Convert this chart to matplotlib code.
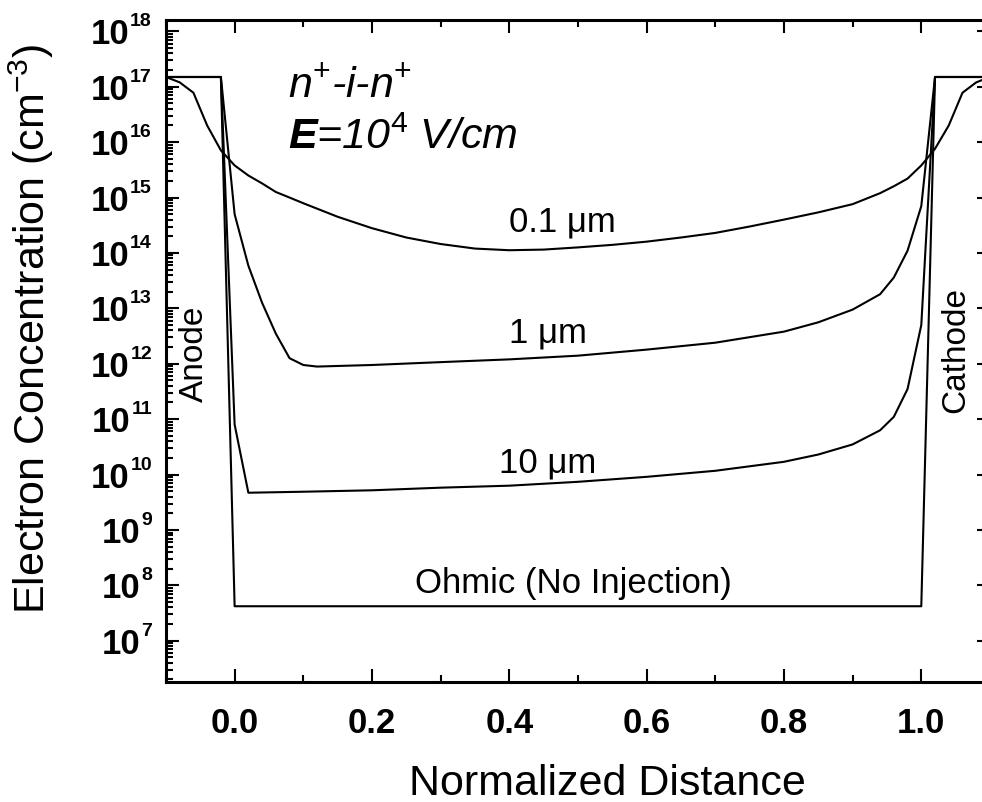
# Electron concentration across an n+-i-n+ structure, log scale

import numpy as np
import matplotlib
matplotlib.use('Agg')
import matplotlib.pyplot as plt
from matplotlib.ticker import LogLocator, MultipleLocator, NullFormatter

# Fuente
plt.rc('font', family='Liberation Sans')
plt.rcParams['mathtext.fontset'] = 'custom'
plt.rcParams['mathtext.rm'] = 'Liberation Sans'
plt.rcParams['mathtext.it'] = 'Liberation Sans:italic'
plt.rcParams['mathtext.bf'] = 'Liberation Sans:bold'
plt.rcParams['mathtext.bfit'] = 'Liberation Sans:bold:italic'

# Datos (cm^-3)
x_01 = [-0.1, -0.08, -0.06, -0.04, -0.02, 0.0, 0.02, 0.04, 0.06, 0.08, 0.1,
        0.15, 0.2, 0.25, 0.3, 0.35, 0.4, 0.45, 0.5, 0.55, 0.6, 0.65, 0.7,
        0.75, 0.8, 0.85, 0.9, 0.94, 0.96, 0.98, 1.0, 1.02, 1.04, 1.06, 1.08, 1.1]
n_01 = [1.5e17, 1.2e17, 7.8e16, 2.0e16, 7.1e15, 3.8e15, 2.5e15, 1.8e15, 1.26e15,
        1.0e15, 7.9e14, 4.5e14, 2.8e14, 1.9e14, 1.45e14, 1.2e14, 1.12e14, 1.15e14,
        1.26e14, 1.4e14, 1.6e14, 1.9e14, 2.3e14, 3.0e14, 4.0e14, 5.4e14, 7.6e14,
        1.2e15, 1.6e15, 2.2e15, 3.8e15, 7.6e15, 2.0e16, 7.8e16, 1.2e17, 1.5e17]

x_1 = [-0.1, -0.02, 0.0, 0.02, 0.04, 0.06, 0.08, 0.1, 0.12, 0.2, 0.3, 0.4, 0.5,
       0.6, 0.7, 0.8, 0.85, 0.9, 0.94, 0.96, 0.98, 1.0, 1.02, 1.1]
n_1 = [1.5e17, 1.5e17, 5e14, 5.9e13, 1.26e13, 3.5e12, 1.26e12, 9.5e11, 8.9e11,
       9.5e11, 1.07e12, 1.2e12, 1.4e12, 1.8e12, 2.4e12, 3.8e12, 5.6e12, 9.5e12,
       1.8e13, 3.6e13, 1.1e14, 7e14, 1.5e17, 1.5e17]

x_10 = [-0.1, -0.02, 0.0, 0.02, 0.1, 0.2, 0.3, 0.4, 0.5, 0.6, 0.7, 0.8, 0.85,
        0.9, 0.94, 0.96, 0.98, 1.0, 1.02, 1.1]
n_10 = [1.5e17, 1.5e17, 8e10, 4.7e9, 4.9e9, 5.2e9, 5.8e9, 6.3e9, 7.4e9, 9.1e9,
        1.17e10, 1.7e10, 2.3e10, 3.5e10, 6.3e10, 1.1e11, 3.5e11, 5e12, 1.5e17, 1.5e17]

x_ohm = [-0.1, -0.02, 0.0, 1.0, 1.02, 1.1]
n_ohm = [1.5e17, 1.5e17, 4.2e7, 4.2e7, 1.5e17, 1.5e17]

xticks = [0.0, 0.2, 0.4, 0.6, 0.8, 1.0]
xticklabels = ['0.0', '0.2', '0.4', '0.6', '0.8', '1.0']
decades = list(range(7, 19))

fig = plt.figure(figsize=(9.82, 8.03), dpi=100)
ax = fig.add_axes([0.169, 0.1494, 0.8391, 0.8244])

for xs, ns in [(x_01, n_01), (x_1, n_1), (x_10, n_10), (x_ohm, n_ohm)]:
    ax.plot(xs, ns, color='black', linewidth=1.5)

ax.set_yscale('log')
ax.set_xlim(-0.1, 1.1)
ax.set_ylim(1.8e6, 1.6e18)

# Ejes y marcas
for s in ax.spines.values():
    s.set_linewidth(2.2)
ax.xaxis.set_minor_locator(MultipleLocator(0.1))
ax.set_xticks(xticks)
ax.set_xticklabels(xticklabels, fontsize=25, fontweight='bold')
ax.yaxis.set_major_locator(LogLocator(base=10, numticks=30))
ax.yaxis.set_minor_locator(LogLocator(base=10, subs=np.arange(2, 10), numticks=30))
ax.yaxis.set_major_formatter(NullFormatter())
ax.yaxis.set_minor_formatter(NullFormatter())
ax.tick_params(which='both', direction='in', top=True, right=True, width=1.5)
ax.tick_params(which='major', length=9.4)
ax.tick_params(which='minor', length=5)
ax.tick_params(axis='y', which='minor', right=False)
ax.tick_params(axis='x', pad=17)

# Etiquetas 10^n con exponente pequeño
ytrans = ax.get_yaxis_transform()
for d in decades:
    e = ax.annotate(str(d), xy=(0, 10.0**d), xycoords=ytrans,
                    xytext=(-14, 6), textcoords='offset pixels',
                    ha='right', va='baseline', fontsize=14, fontweight='bold',
                    annotation_clip=False)
    ax.annotate('10', xy=(0, 10.0**d), xycoords=(e, 'data'),
                xytext=(-1, -12), textcoords='offset pixels',
                ha='right', va='baseline', fontsize=25, fontweight='bold',
                annotation_clip=False)

ax.set_xlabel('Normalized Distance', fontsize=31)
ax.xaxis.set_label_coords(0.536, -0.122)
ax.set_ylabel('Electron Concentration (cm$^{\\mathrm{-3}}$)', fontsize=31)
ax.yaxis.set_label_coords(-0.133, 0.535)

# Textos
ax.text(0.148, 0.884, 'n$^{\\mathit{+}}$-i-n$^{\\mathit{+}}$', transform=ax.transAxes,
        fontsize=31, style='italic', va='baseline')
ax.text(0.148, 0.807, '$\\mathbfit{E}$=10$^{\\mathit{4}}$ V/cm', transform=ax.transAxes,
        fontsize=31, style='italic', va='baseline')

ax.text(0.478, 3.7e14, '0.1 μm', fontsize=25, ha='center', va='center')
ax.text(0.456, 3.7e12, '1 μm', fontsize=25, ha='center', va='center')
ax.text(0.456, 1.7e10, '10 μm', fontsize=25, ha='center', va='center')
ax.text(0.493, 1.15e8, 'Ohmic (No Injection)', fontsize=25, ha='center', va='center')

xtrans = ax.get_xaxis_transform()
ax.text(-0.058, 0.497, 'Anode', transform=xtrans, rotation=90,
        fontsize=24, ha='center', va='center')
ax.text(1.05, 0.503, 'Cathode', transform=xtrans, rotation=90,
        fontsize=24, ha='center', va='center')

fig.savefig('out.png', dpi=100)
